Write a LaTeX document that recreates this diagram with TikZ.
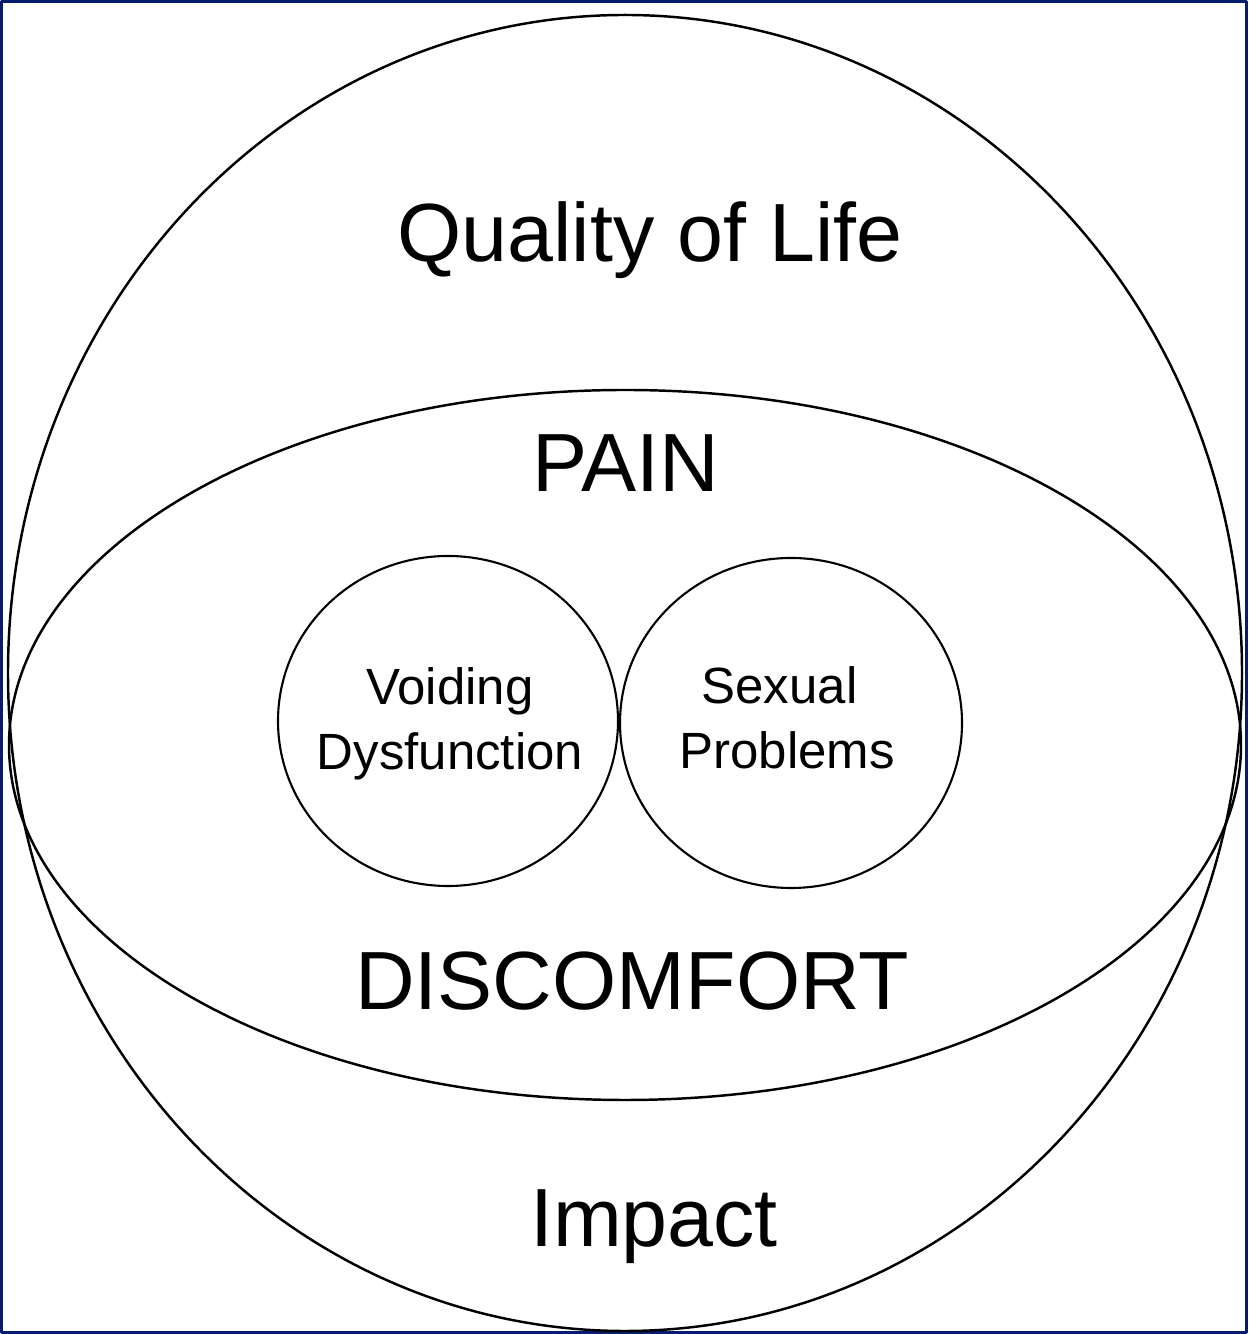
\documentclass[tikz,border=0pt]{standalone}
\usepackage{fontspec}
\setmainfont{Liberation Sans}
\usepackage{tikz}
\definecolor{framenavy}{RGB}{8,28,110}

\begin{document}
\begin{tikzpicture}[line join=round,
        bigtxt/.style={anchor=base,font=\fontsize{47}{56}\selectfont},
        smalltxt/.style={align=center,font=\fontsize{29}{37}\selectfont}] % Quality of Life Domains
         \useasboundingbox (0,0) rectangle (24.96,26.68);
         \draw[framenavy,line width=1.6pt] (.028,.028) rectangle (24.932,26.652);
         \draw[line width=1.4pt] (12.5,13.22) ellipse [x radius=12.34,y radius=13.16];
         \draw[line width=1.4pt] (12.5,11.78) ellipse [x radius=12.32,y radius=7.1];
         \draw[line width=1.2pt] (8.96,12.26) ellipse [x radius=3.4,y radius=3.3];
         \draw[line width=1.2pt] (15.82,12.22) ellipse [x radius=3.42,y radius=3.3];
         \path
                (13.0,21.44) node [bigtxt] (qol) {Quality of Life}
                (12.52,16.84) node [bigtxt] (pain) {PAIN}
                (12.64,6.48) node [bigtxt] (discomfort) {DISCOMFORT}
                (13.08,1.74) node [bigtxt] (impact) {Impact}
                (9.0,12.21) node [smalltxt] (voiding) {Voiding\\Dysfunction}
                (15.74,12.33) node [smalltxt] (sexual) {Sexual\hspace*{.3cm}\\Problems};
     \end{tikzpicture}
\end{document}
